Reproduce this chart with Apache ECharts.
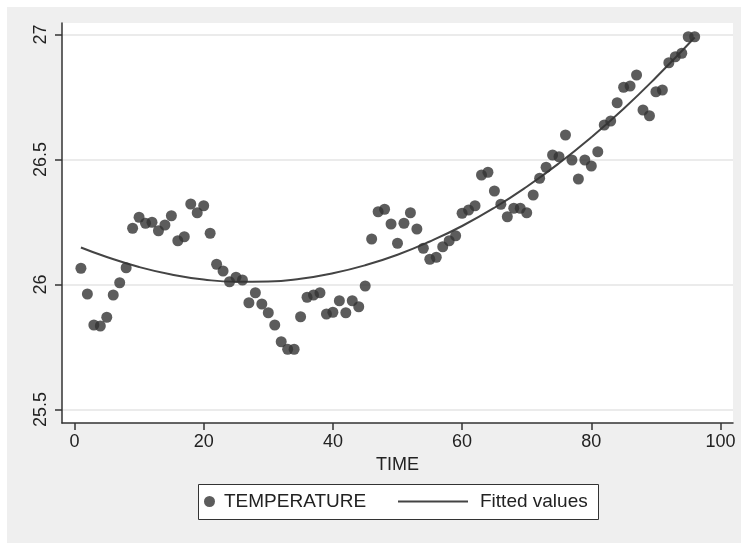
<!DOCTYPE html>
<html>
<head>
<meta charset="utf-8">
<script src="https://cdn.jsdelivr.net/npm/echarts@6/dist/echarts.min.js"></script>
<style>
html,body{margin:0;padding:0;background:#ffffff;}
#chart{width:741px;height:543px;}
</style>
</head>
<body>
<div id="chart"></div>
<script>
// ---- data ----
const time = [1,2,3,4,5,6,7,8,9,10,11,12,13,14,15,16,17,18,19,20,21,22,23,24,25,26,27,28,29,30,31,32,33,34,35,36,37,38,39,40,41,42,43,44,45,46,47,48,49,50,51,52,53,54,55,56,57,58,59,60,61,62,63,64,65,66,67,68,69,70,71,72,73,74,75,76,77,78,79,80,81,82,83,84,85,86,87,88,89,90,91,92,93,94,95,96];
const temperature = [26.065,25.962,25.838,25.834,25.869,25.958,26.007,26.067,26.225,26.269,
  26.245,26.249,26.215,26.238,26.275,26.175,26.191,26.322,26.287,26.315,
  26.205,26.081,26.054,26.011,26.029,26.018,25.927,25.967,25.922,25.887,
  25.838,25.771,25.741,25.741,25.871,25.949,25.958,25.967,25.882,25.889,
  25.935,25.887,25.935,25.911,25.994,26.182,26.291,26.301,26.242,26.165,
  26.245,26.287,26.222,26.145,26.101,26.109,26.151,26.175,26.195,26.285,
  26.298,26.315,26.438,26.449,26.374,26.321,26.271,26.305,26.305,26.287,
  26.358,26.425,26.469,26.518,26.511,26.598,26.498,26.422,26.498,26.474,
  26.531,26.638,26.654,26.727,26.789,26.794,26.838,26.698,26.675,26.771,
  26.778,26.887,26.911,26.925,26.991,26.991];
const fitTime = [1,5,10,15,20,25,30,35,40,45,50,55,60,65,70,75,80,85,90,96];
const fitValues = [26.148,26.110,26.070,26.040,26.020,26.011,26.012,26.023,26.045,26.077,
  26.119,26.172,26.234,26.307,26.391,26.485,26.589,26.703,26.828,26.988];
const xTicks = [0,20,40,60,80,100];
const yTicks = [25.5,26,26.5,27];
const seriesNames = ['TEMPERATURE','Fitted values'];
const xTitle = 'TIME';

// ---- chart ----
const scatterData = time.map((t,i)=>[t,temperature[i]]);
const fitData = fitTime.map((t,i)=>[t,fitValues[i]]);
const FONT = '"Liberation Sans", Arial, sans-serif';
const chart = echarts.init(document.getElementById('chart'), null, {renderer:'canvas'});
chart.setOption({
  backgroundColor:'#ffffff',
  animation:false,
  graphic:[
    {type:'rect', z:-100, shape:{x:7,y:7,width:734,height:536}, style:{fill:'#efefef'}},
    {type:'rect', z:1, shape:{x:198.5,y:484.5,width:400,height:35}, style:{fill:'#ffffff',stroke:'#333333',lineWidth:1}}
  ],
  grid:{left:62,right:8,top:23,bottom:120,show:true,backgroundColor:'#ffffff',borderWidth:0},
  xAxis:{
    type:'value', min:-1.93, max:101.93,
    name:xTitle, nameLocation:'middle', nameGap:31,
    nameTextStyle:{fontFamily:FONT,fontSize:18,color:'#222222'},
    axisLine:{show:true,onZero:false,lineStyle:{color:'#333333',width:1.5}},
    axisTick:{show:true,length:7,customValues:xTicks,lineStyle:{color:'#333333',width:1.5}},
    axisLabel:{customValues:xTicks,margin:10,fontFamily:FONT,fontSize:18,color:'#222222'},
    splitLine:{show:false}
  },
  yAxis:{
    type:'value', min:25.446, max:27.046,
    axisLine:{show:true,onZero:false,lineStyle:{color:'#333333',width:1.5}},
    axisTick:{show:true,length:7,customValues:yTicks,lineStyle:{color:'#333333',width:1.5}},
    axisLabel:{customValues:yTicks,rotate:90,margin:12,fontFamily:FONT,fontSize:18,color:'#222222',
      formatter:v=>String(v)},
    splitLine:{show:true,lineStyle:{color:'#ebebeb',width:2}}
  },
  legend:[
    {data:[{name:seriesNames[0],icon:'circle'}], left:204, top:492, itemWidth:11, itemHeight:11, padding:0,
     textStyle:{fontFamily:FONT,fontSize:19,color:'#222222',padding:[0,0,0,4]}, selectedMode:false},
    {data:[{name:seriesNames[1],icon:'rect',itemStyle:{color:'#444444'}}], left:398, top:492, itemWidth:70, itemHeight:2, padding:0,
     textStyle:{fontFamily:FONT,fontSize:19,color:'#222222',padding:[0,0,0,7]}, selectedMode:false}
  ],
  series:[
    {name:seriesNames[0], type:'scatter', data:scatterData, symbol:'circle', symbolSize:11,
     itemStyle:{color:'#333333'}, z:3},
    {name:seriesNames[1], type:'line', data:fitData, smooth:true, showSymbol:false, symbol:'none',
     lineStyle:{color:'#444444',width:2}, itemStyle:{color:'#444444'}, z:2}
  ]
});
</script>
</body>
</html>
